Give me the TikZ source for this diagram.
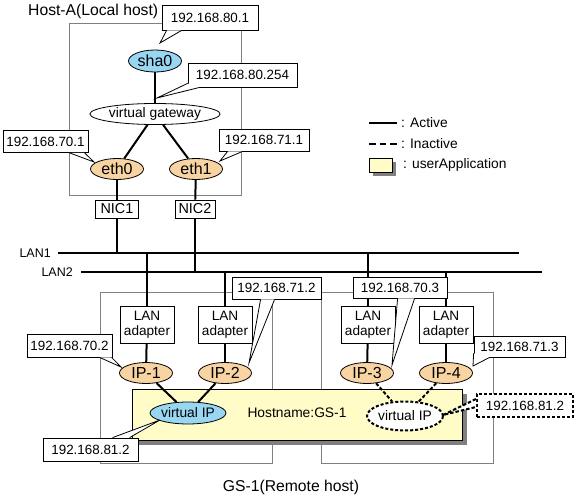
\documentclass[tikz,border=0pt]{standalone}
\usepackage{fontspec}
\setmainfont{Liberation Sans}
\usetikzlibrary{shapes.geometric,calc}
\definecolor{ablue}{HTML}{99D6F2}
\definecolor{aorange}{HTML}{F9D4A3}
\definecolor{ayellow}{HTML}{FFFCC8}
\definecolor{agray}{HTML}{808080}
\tikzset{
  hostbox/.style={draw=agray,line width=1pt},
  conn/.style={line width=2pt},
  dconn/.style={line width=2pt,dash pattern=on 3.5pt off 2pt},
  legdash/.style={line width=2pt,dash pattern=on 6.5pt off 4pt},
  ipbox/.style={draw,fill=white,rectangle,inner sep=0pt,line width=0.8pt,font=\fontsize{13.4}{15}\selectfont},
  dipbox/.style={ipbox,line width=2pt,dash pattern=on 3pt off 2pt},
  oval/.style={draw,ellipse,inner sep=0pt,line width=0.8pt},
  ifnode/.style={oval,fill=aorange,minimum width=53pt,minimum height=21pt,font=\fontsize{16}{18}\selectfont},
  adapter/.style={draw,fill=white,rectangle,inner sep=0pt,line width=0.8pt,minimum width=54pt,minimum height=37pt,align=center,font=\fontsize{13.6}{15}\selectfont},
  nicbox/.style={draw,fill=white,rectangle,inner sep=0pt,line width=0.8pt,minimum height=18pt,font=\fontsize{14.4}{15}\selectfont},
  lbl/.style={inner sep=0pt,font=\fontsize{13.8}{15}\selectfont},
  plain/.style={line width=0.8pt}
}
\newcommand{\callout}[4][plain]{%
  \fill[white] (#2) -- (#4) -- (#3) -- cycle;
  \draw[#1] (#2) -- (#4) -- (#3);}
\begin{document}
\begin{tikzpicture}[x=1pt,y=-1pt]
\useasboundingbox (0,0) rectangle (575,497);

% host boxes
\draw[hostbox] (69,24) rectangle (241,195);
\draw[hostbox] (100,292) rectangle (272,463);
\draw[hostbox] (321,292) rectangle (493,463);

% titles
\node[inner sep=0pt,anchor=west,font=\fontsize{15.7}{17}\selectfont] (ttlA) at (28,11) {Host-A(Local host)};
\node[inner sep=0pt,font=\fontsize{15.7}{17}\selectfont] (ttlB) at (291,487) {GS-1(Remote host)};

% LANs
\coordinate (lan1w) at (58,253);
\coordinate (lan1e) at (519,253);
\coordinate (lan2w) at (81,272);
\coordinate (lan2e) at (542,272);
\draw[conn] (lan1w) -- (lan1e);
\draw[conn] (lan2w) -- (lan2e);
\node[lbl,anchor=east,font=\fontsize{12.5}{14}\selectfont] (l1) at (51,253) {LAN1};
\node[lbl,anchor=east,font=\fontsize{12.5}{14}\selectfont] (l2) at (73,272) {LAN2};

% Host-A nodes
\node[oval,fill=ablue,minimum width=53pt,minimum height=22pt,font=\fontsize{16}{18}\selectfont] (sha0) at (155,61) {sha0};
\node[oval,fill=white,minimum width=108pt,minimum height=21pt,font=\fontsize{13.8}{15}\selectfont] (vgw) at (155,114) {virtual gateway};
\node[ifnode] (eth0) at (117,169) {eth0};
\node[ifnode] (eth1) at (196,169) {eth1};
\node[nicbox,minimum width=43pt] (nic1) at (117,209) {NIC1};
\node[nicbox,minimum width=40pt] (nic2) at (195,209) {NIC2};

\draw[conn] (sha0) -- (vgw);
\draw[conn] (vgw) -- (eth0);
\draw[conn] (vgw) -- (eth1);
\draw[conn] (eth0) -- (nic1);
\draw[conn] (eth1) -- (nic2);
\draw[conn] (nic1) -- (nic1 |- lan1w);
\draw[conn] (nic2) -- (nic2 |- lan2w);

% userApplication box
\fill[agray] (137,394) rectangle (467,445);
\draw[fill=ayellow,line width=0.8pt] (132,389) rectangle (462,440);
\node[lbl] (hn) at (297,413) {Hostname:GS-1};

% GS-1 nodes
\node[adapter] (ad1) at (147,324.5) {LAN\\adapter};
\node[adapter] (ad2) at (225,324.5) {LAN\\adapter};
\node[adapter] (ad3) at (368,324.5) {LAN\\adapter};
\node[adapter] (ad4) at (446,324.5) {LAN\\adapter};
\node[ifnode] (ip1) at (146,373) {IP-1};
\node[ifnode] (ip2) at (225,373) {IP-2};
\node[ifnode] (ip3) at (367,373) {IP-3};
\node[ifnode] (ip4) at (446,373) {IP-4};
\node[oval,fill=ablue,minimum width=75pt,minimum height=22pt,font=\fontsize{13.8}{15}\selectfont] (vip1) at (188,413) {virtual IP};
\node[oval,fill=white,line width=2pt,dash pattern=on 3pt off 2pt,minimum width=76pt,minimum height=29pt,font=\fontsize{13.8}{15}\selectfont] (vip2) at (405,416) {virtual IP};

\draw[conn] (ad1) -- (ad1 |- lan1w);
\draw[conn] (ad2) -- (ad2 |- lan2w);
\draw[conn] (ad3) -- (ad3 |- lan1w);
\draw[conn] (ad4) -- (ad4 |- lan2w);
\draw[conn] (ad1) -- (ip1);
\draw[conn] (ad2) -- (ip2);
\draw[conn] (ad3) -- (ip3);
\draw[conn] (ad4) -- (ip4);
\draw[conn] (ip1) -- (vip1);
\draw[conn] (ip2) -- (vip1);
\draw[dconn] (ip3) -- (vip2);
\draw[dconn] (ip4) -- (vip2);

% address labels
\node[ipbox,minimum width=96pt,minimum height=25pt] (b801) at (210,17.5) {192.168.80.1};
\node[ipbox,minimum width=109pt,minimum height=24pt] (b80254) at (242.5,75) {192.168.80.254};
\node[ipbox,minimum width=85pt,minimum height=22pt] (b701) at (45.5,141.5) {192.168.70.1};
\node[ipbox,minimum width=90pt,minimum height=22pt] (b711) at (264,140) {192.168.71.1};
\node[ipbox,minimum width=85pt,minimum height=23pt] (b702) at (69.5,345.5) {192.168.70.2};
\node[ipbox,minimum width=89pt,minimum height=22pt] (b712) at (276.5,288) {192.168.71.2};
\node[ipbox,minimum width=94pt,minimum height=21pt] (b703) at (400,287.5) {192.168.70.3};
\node[ipbox,minimum width=91pt,minimum height=21pt] (b713) at (519.5,346.5) {192.168.71.3};
\node[ipbox,minimum width=95pt,minimum height=23pt] (b812a) at (90.5,449.5) {192.168.81.2};
\node[dipbox,minimum width=96pt,minimum height=23pt] (b812b) at (525,405.5) {192.168.81.2};

% callout pointers
\callout{$(b801.south west)+(5,0)$}{$(b801.south west)+(20,0)$}{$(sha0)+(5,-18)$}
\callout{$(b80254.south west)+(0,-4)$}{$(b80254.south west)+(12,0)$}{$(vgw)+(2,-16)$}
\callout{$(b701.south west)+(67,0)$}{$(b701.south west)+(82,0)$}{$(eth0)+(-23,-7)$}
\callout{$(b711.south west)+(9,0)$}{$(b711.south west)+(24,0)$}{$(eth1)+(24,-8)$}
\callout{$(b702.south west)+(73,0)$}{$(b702.south west)+(85,0)$}{$(ip1)+(-25,-6)$}
\callout{$(b712.south west)+(29,0)$}{$(b712.south west)+(43,0)$}{$(ip2)+(24,-10)$}
\callout{$(b703.south west)+(45,0)$}{$(b703.south west)+(62,0)$}{$(ip3)+(25,-8)$}
\callout{$(b713.south west)+(0,-4)$}{$(b713.south west)+(16,0)$}{$(ip4)+(27,-7)$}
\callout{$(b812a.north west)+(70,0)$}{$(b812a.north west)+(87,0)$}{$(vip1)+(-28,7)$}
\callout[dconn]{$(b812b.north west)+(0,6)$}{$(b812b.north west)+(0,14)$}{$(vip2)+(38,-1)$}

% legend
\draw[conn] (369,123) coordinate (la1) -- (397,123) coordinate (la2);
\node[lbl,anchor=west] (lta) at (401,123) {: Active};
\draw[legdash] (369,144) coordinate (li1) -- (397,144) coordinate (li2);
\node[lbl,anchor=west] (lti) at (401,144) {: Inactive};
\fill[agray] (373,162) rectangle (396,176);
\draw[fill=ayellow,line width=0.8pt] (369,158) rectangle (392,172);
\node[lbl,anchor=west] (ltu) at (403,165) {: userApplication};
\end{tikzpicture}
\end{document}
